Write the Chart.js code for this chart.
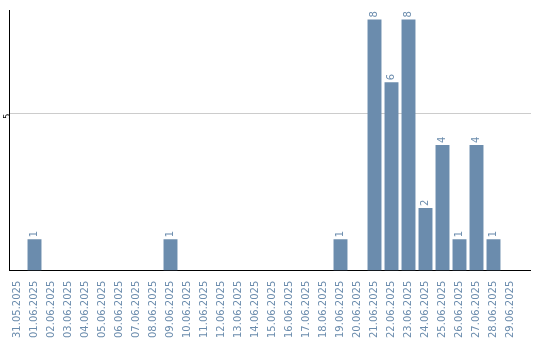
<!DOCTYPE html>
<html>
<head>
<meta charset="utf-8">
<script src="https://cdn.jsdelivr.net/npm/chart.js@4"></script>
<style>
  body { margin: 0; background: #fff; }
  canvas { display: block; }
</style>
</head>
<body>
<canvas id="chart" width="540" height="340"></canvas>
<script>
const dates = [
  "31.05.2025", "01.06.2025", "02.06.2025", "03.06.2025", "04.06.2025",
  "05.06.2025", "06.06.2025", "07.06.2025", "08.06.2025", "09.06.2025",
  "10.06.2025", "11.06.2025", "12.06.2025", "13.06.2025", "14.06.2025",
  "15.06.2025", "16.06.2025", "17.06.2025", "18.06.2025", "19.06.2025",
  "20.06.2025", "21.06.2025", "22.06.2025", "23.06.2025", "24.06.2025",
  "25.06.2025", "26.06.2025", "27.06.2025", "28.06.2025", "29.06.2025"
];
const counts = [
  0, 1, 0, 0, 0, 0, 0, 0, 0, 1,
  0, 0, 0, 0, 0, 0, 0, 0, 0, 1,
  0, 8, 6, 8, 2, 4, 1, 4, 1, 0
];
const yTicks = [5];

const blue = "#6b8cad";

// value labels written upwards above each bar
const barLabels = {
  id: "barLabels",
  afterDatasetsDraw(chart){
    const c = chart.ctx;
    const meta = chart.getDatasetMeta(0);
    c.save();
    c.fillStyle = blue;
    c.font = "10px 'DejaVu Sans'";
    c.textAlign = "left";
    c.textBaseline = "middle";
    meta.data.forEach((bar, i) => {
      if(!counts[i]) return;
      c.save();
      c.translate(bar.x, bar.y - 2);
      c.rotate(-Math.PI/2);
      c.fillText(String(counts[i]), 0, 0);
      c.restore();
    });
    c.restore();
  }
};

// axis line and grid run a bit past the last category
const align = p => Math.round(p - 0.5) + 0.5;
const extendLines = {
  id: "extendLines",
  afterDraw(chart){
    const c = chart.ctx;
    const a = chart.chartArea;
    const y = chart.scales.y;
    c.save();
    c.lineWidth = 1;
    c.strokeStyle = "#cccccc";
    const g = align(y.getPixelForValue(5));
    c.beginPath(); c.moveTo(a.right - 1, g); c.lineTo(531, g); c.stroke();
    c.strokeStyle = "#000";
    const b = align(y.getPixelForValue(0));
    c.beginPath(); c.moveTo(a.right - 1, b); c.lineTo(531, b); c.stroke();
    c.restore();
  }
};

new Chart(document.getElementById("chart"), {
  type: "bar",
  data: {
    labels: dates,
    datasets: [{
      data: counts,
      backgroundColor: blue,
      barPercentage: 0.82,
      categoryPercentage: 1
    }]
  },
  options: {
    responsive: false,
    animation: false,
    layout: { padding: { top: 10, right: 21, left: 0, bottom: 0 } },
    plugins: { legend: { display: false }, tooltip: { enabled: false } },
    scales: {
      x: {
        grid: { display: false },
        border: { color: "#000", width: 1 },
        ticks: {
          color: blue,
          font: { family: "DejaVu Sans", size: 10 },
          minRotation: 90,
          maxRotation: 90,
          autoSkip: false,
          padding: 2
        }
      },
      y: {
        min: 0,
        max: 8.3,
        afterFit: s => { s.width = 9; },
        border: { color: "#000", width: 1 },
        grid: {
          drawTicks: false,
          color: ctx => yTicks.includes(ctx.tick.value) ? "#cccccc" : "rgba(0,0,0,0)"
        },
        ticks: {
          stepSize: 5,
          includeBounds: false,
          color: "#000",
          font: { family: "DejaVu Sans", size: 8 },
          minRotation: 90,
          padding: 1,
          callback: v => yTicks.includes(v) ? String(v) : ""
        }
      }
    }
  },
  plugins: [barLabels, extendLines]
});
</script>
</body>
</html>
